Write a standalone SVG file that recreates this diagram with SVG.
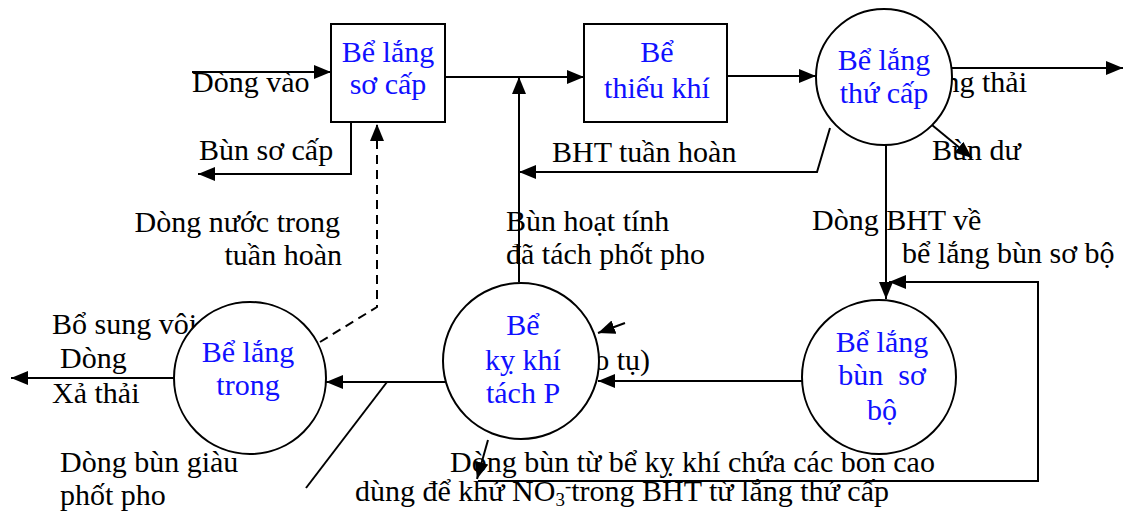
<svg xmlns="http://www.w3.org/2000/svg" width="1124" height="516" viewBox="0 0 1124 516">
  <style>
    text { font-family: "Liberation Serif", "Times New Roman", serif; font-size: 30px; fill: #000; }
    .nl { fill: #1010ff; text-anchor: middle; }
    .end { text-anchor: end; }
    .ln { fill: none; stroke: #000; stroke-width: 2; }
    .dash { stroke-dasharray: 9 6; }
    .shape { fill: #fff; stroke: #000; stroke-width: 2; }
  </style>
  <defs>
    <marker id="arrow" markerUnits="userSpaceOnUse" markerWidth="18" markerHeight="14" viewBox="0 0 18 14" refX="17" refY="7" orient="auto">
      <path d="M0,0 L17,7 L0,14 Z" fill="#000"/>
    </marker>
  </defs>
  <rect width="1124" height="516" fill="#fff"/>

  <!-- flow labels -->
  <g id="labels">
    <text x="192" y="92">Dòng vào</text>
    <text x="199" y="160">Bùn sơ cấp</text>
    <text x="552" y="162">BHT tuần hoàn</text>
    <text class="end" x="1027" y="92">Dòng thải</text>
    <text x="932" y="160">Bùn dư</text>
    <text class="end" x="340" y="232">Dòng nước trong</text>
    <text class="end" x="342" y="265">tuần hoàn</text>
    <text x="506" y="231">Bùn hoạt tính</text>
    <text x="506" y="264">đã tách phốt pho</text>
    <text x="812" y="230">Dòng BHT về</text>
    <text x="902" y="263">bể lắng bùn sơ bộ</text>
    <text x="52" y="334">Bổ sung vôi</text>
    <text x="60" y="368">Dòng</text>
    <text x="52" y="403">Xả thải</text>
    <text class="end" x="650" y="370">o tụ)</text>
    <text x="60" y="472">Dòng bùn giàu</text>
    <text x="60" y="505">phốt pho</text>
    <text x="450" y="472">Dòng bùn từ bể kỵ khí chứa các bon cao</text>
    <text x="355" y="501">dùng để khử NO<tspan dy="5" font-size="19">3</tspan><tspan dy="-14" font-size="19">-</tspan><tspan dy="9">trong BHT từ lắng thứ cấp</tspan></text>
  </g>

  <!-- connectors -->
  <g id="connectors">
    <line class="ln" x1="192" y1="72" x2="331" y2="72" marker-end="url(#arrow)"/>
    <line class="ln" x1="445" y1="77" x2="584" y2="77" marker-end="url(#arrow)"/>
    <line class="ln" x1="519" y1="282" x2="519" y2="77" marker-end="url(#arrow)"/>
    <polyline class="ln" points="830,128 817,172 519,172" marker-end="url(#arrow)"/>
    <line class="ln" x1="727" y1="76" x2="816" y2="76" marker-end="url(#arrow)"/>
    <line class="ln" x1="952" y1="68" x2="1123" y2="68" marker-end="url(#arrow)"/>
    <line class="ln" x1="932" y1="125" x2="972" y2="158" marker-end="url(#arrow)"/>
    <polyline class="ln" points="351,122 351,174 198,174" marker-end="url(#arrow)"/>
    <line class="ln" x1="886" y1="145" x2="886" y2="299" marker-end="url(#arrow)"/>
    <polyline class="ln" points="478,481 1038,481 1038,282 889,282" marker-end="url(#arrow)"/>
    <line class="ln" x1="488" y1="440" x2="477" y2="479" marker-end="url(#arrow)"/>
    <line class="ln" x1="803" y1="381" x2="598" y2="381" marker-end="url(#arrow)"/>
    <line class="ln" x1="625" y1="323" x2="598" y2="333" marker-end="url(#arrow)"/>
    <line class="ln" x1="445" y1="382" x2="326" y2="382" marker-end="url(#arrow)"/>
    <line class="ln" x1="387" y1="382" x2="306" y2="488"/>
    <line class="ln" x1="174" y1="378" x2="11" y2="378" marker-end="url(#arrow)"/>
    <polyline class="ln dash" points="320,342 377,307 377,124" marker-end="url(#arrow)"/>
  </g>

  <!-- tanks -->
  <g id="be-lang-so-cap">
    <rect class="shape" x="331" y="24" width="114" height="98"/>
    <text class="nl" x="388" y="62">Bể lắng</text>
    <text class="nl" x="388" y="94">sơ cấp</text>
  </g>
  <g id="be-thieu-khi">
    <rect class="shape" x="584" y="24" width="143" height="98"/>
    <text class="nl" x="657" y="62">Bể</text>
    <text class="nl" x="657" y="98">thiếu khí</text>
  </g>
  <g id="be-lang-thu-cap">
    <circle class="shape" cx="884" cy="77" r="68"/>
    <text class="nl" x="884" y="70">Bể lắng</text>
    <text class="nl" x="884" y="103">thứ cấp</text>
  </g>
  <g id="be-lang-bun-so-bo">
    <circle class="shape" cx="879" cy="377" r="77"/>
    <text class="nl" x="882" y="352">Bể lắng</text>
    <text class="nl" x="882" y="385" xml:space="preserve">bùn  sơ</text>
    <text class="nl" x="882" y="420">bộ</text>
  </g>
  <g id="be-ky-khi">
    <circle class="shape" cx="521" cy="361" r="78"/>
    <text class="nl" x="523" y="335">Bể</text>
    <text class="nl" x="523" y="370">kỵ khí</text>
    <text class="nl" x="523" y="403">tách P</text>
  </g>
  <g id="be-lang-trong">
    <circle class="shape" cx="250" cy="378" r="76"/>
    <text class="nl" x="248" y="362">Bể lắng</text>
    <text class="nl" x="248" y="395">trong</text>
  </g>
</svg>
